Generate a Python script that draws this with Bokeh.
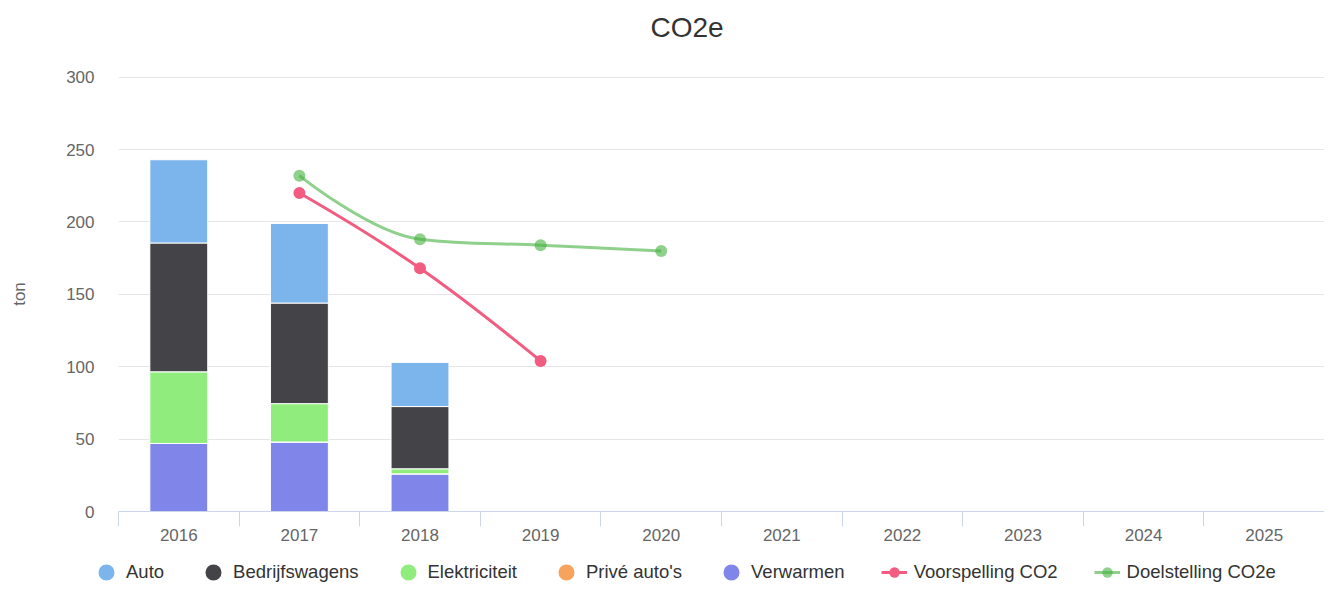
from bokeh.plotting import figure
from bokeh.layouts import column
from bokeh.models import Range1d, FixedTicker, Legend, LegendItem, ColumnDataSource, Label
from bokeh.embed import file_html
from bokeh.resources import INLINE

# ---------------- data ----------------
years = ["2016", "2017", "2018", "2019", "2020", "2021", "2022", "2023", "2024", "2025"]

bar_years = ["2016", "2017", "2018"]
auto = [57.5, 55.0, 30.5]
bedrijfswagens = [89.0, 69.5, 43.0]
elektriciteit = [49.5, 26.5, 3.5]
prive_autos = [0.0, 0.0, 0.0]
verwarmen = [47.0, 48.0, 26.0]

voorspelling_years = ["2017", "2018", "2019"]
voorspelling = [220, 168, 104]

doelstelling_years = ["2017", "2018", "2019", "2020"]
doelstelling = [232, 188, 184, 180]

y_ticks = [0, 50, 100, 150, 200, 250, 300]

# ---------------- styles ----------------
FONT = "Liberation Sans"
C_AUTO = "#7cb5ec"
C_BEDR = "#434348"
C_ELEK = "#90ed7d"
C_PRIVE = "#f7a35c"
C_VERW = "#8085e9"
C_VOOR = "#f15c80"
C_DOEL = "#44b13f"
DOEL_ALPHA = 0.6
W = 1324

idx = {y: i for i, y in enumerate(years)}


def spline_segments(xs, ys, smoothing=1.5):
    """Highcharts-style spline: returns cubic bezier segments."""
    n = len(xs)
    denom = smoothing + 1
    lc = [None] * n
    rc = [None] * n
    for i in range(1, n - 1):
        px, py = xs[i], ys[i]
        lx, ly = xs[i - 1], ys[i - 1]
        nx, ny = xs[i + 1], ys[i + 1]
        lcx = (smoothing * px + lx) / denom
        lcy = (smoothing * py + ly) / denom
        rcx = (smoothing * px + nx) / denom
        rcy = (smoothing * py + ny) / denom
        if rcx != lcx:
            corr = ((rcy - lcy) * (rcx - px)) / (rcx - lcx) + py - rcy
            lcy += corr
            rcy += corr
        if lcy > ly and lcy > py:
            lcy = max(ly, py)
            rcy = 2 * py - lcy
        elif lcy < ly and lcy < py:
            lcy = min(ly, py)
            rcy = 2 * py - lcy
        if rcy > ny and rcy > py:
            rcy = max(ny, py)
            lcy = 2 * py - rcy
        elif rcy < ny and rcy < py:
            rcy = min(ny, py)
            lcy = 2 * py - rcy
        lc[i] = (lcx, lcy)
        rc[i] = (rcx, rcy)
    seg = dict(x0=[], y0=[], x1=[], y1=[], cx0=[], cy0=[], cx1=[], cy1=[])
    for i in range(1, n):
        sx, sy = xs[i - 1], ys[i - 1]
        ex, ey = xs[i], ys[i]
        c0 = rc[i - 1] if rc[i - 1] is not None else (sx, sy)
        c1 = lc[i] if lc[i] is not None else (ex, ey)
        seg["x0"].append(sx); seg["y0"].append(sy)
        seg["x1"].append(ex); seg["y1"].append(ey)
        seg["cx0"].append(c0[0]); seg["cy0"].append(c0[1])
        seg["cx1"].append(c1[0]); seg["cy1"].append(c1[1])
    return seg


def blank_figure(height):
    f = figure(width=W, height=height, output_backend="svg", toolbar_location=None,
               x_range=Range1d(0, W), y_range=Range1d(0, height),
               x_axis_type=None, y_axis_type=None, min_border=0)
    f.outline_line_color = None
    f.background_fill_color = "white"
    f.border_fill_color = "white"
    return f


HEAD_H = 50
# ---------------- title strip ----------------
head = blank_figure(HEAD_H)
head.add_layout(Label(x=650, y=HEAD_H - 27, x_units="screen", y_units="screen", text="CO2e",
                      text_font=FONT, text_font_size="28px", text_color="#333333",
                      text_align="left", text_baseline="middle"))

# ---------------- main chart ----------------
p = figure(width=W, height=550 - HEAD_H, output_backend="svg", toolbar_location=None,
           x_range=Range1d(-0.5, len(years) - 0.5), y_range=Range1d(0, 300.5),
           min_border_left=118, min_border_right=0, min_border_top=76 - HEAD_H,
           min_border_bottom=39)
p.outline_line_color = None
p.background_fill_color = "white"
p.border_fill_color = "white"

# y axis
p.yaxis.ticker = FixedTicker(ticks=y_ticks)
p.yaxis.axis_line_color = None
p.yaxis.major_tick_line_color = None
p.yaxis.minor_tick_line_color = None
p.yaxis.major_tick_out = 0
p.yaxis.major_label_standoff = 24
p.yaxis.major_label_text_font = FONT
p.yaxis.major_label_text_font_size = "17px"
p.yaxis.major_label_text_color = "#666666"
p.yaxis.axis_label = "ton"
p.yaxis.axis_label_text_font = FONT
p.yaxis.axis_label_text_font_size = "17px"
p.yaxis.axis_label_text_font_style = "normal"
p.yaxis.axis_label_text_color = "#666666"
p.yaxis.axis_label_standoff = 34
p.ygrid.grid_line_color = "#e6e6e6"
p.ygrid.grid_line_width = 1

# x axis
p.xaxis.ticker = FixedTicker(ticks=list(range(len(years))),
                             minor_ticks=[i - 0.5 for i in range(len(years) + 1)])
p.xaxis.major_label_overrides = {i: y for i, y in enumerate(years)}
p.xaxis.axis_line_color = "#ccd6eb"
p.xaxis.axis_line_width = 1
p.xaxis.major_tick_line_color = None
p.xaxis.major_tick_out = 0
p.xaxis.major_tick_in = 0
p.xaxis.minor_tick_line_color = "#ccd6eb"
p.xaxis.minor_tick_out = 15
p.xaxis.minor_tick_in = 0
p.xaxis.major_label_standoff = 2
p.xaxis.major_label_text_font = FONT
p.xaxis.major_label_text_font_size = "17px"
p.xaxis.major_label_text_color = "#666666"
p.xgrid.visible = False

# stacked bars
src = ColumnDataSource(dict(
    x=[idx[y] for y in bar_years],
    verw=verwarmen, prive=prive_autos, elek=elektriciteit, bedr=bedrijfswagens, auto=auto,
))
p.vbar_stack(["verw", "prive", "elek", "bedr", "auto"], x="x", width=0.48, source=src,
             fill_color=[C_VERW, C_PRIVE, C_ELEK, C_BEDR, C_AUTO],
             line_color="white", line_width=1)

# spline lines
vx = [idx[y] for y in voorspelling_years]
seg_v = spline_segments(vx, voorspelling)
p.bezier(source=ColumnDataSource(seg_v), x0="x0", y0="y0", x1="x1", y1="y1",
         cx0="cx0", cy0="cy0", cx1="cx1", cy1="cy1", line_color=C_VOOR, line_width=3)
p.scatter(vx, voorspelling, marker="circle", size=12, fill_color=C_VOOR, line_color=None)

dx = [idx[y] for y in doelstelling_years]
seg_d = spline_segments(dx, doelstelling)
p.bezier(source=ColumnDataSource(seg_d), x0="x0", y0="y0", x1="x1", y1="y1",
         cx0="cx0", cy0="cy0", cx1="cx1", cy1="cy1", line_color=C_DOEL, line_width=3,
         line_alpha=DOEL_ALPHA)
p.scatter(dx, doelstelling, marker="circle", size=12, fill_color=C_DOEL, line_color=None,
          fill_alpha=DOEL_ALPHA)

# ---------------- legend strip ----------------
lf = blank_figure(35)
OFF = [-1000]  # proxy glyph position, outside the strip's visible range


def proxy_circle(color, stroke, alpha=1.0):
    # legend markers are drawn at 0.4 * glyph box; a same-coloured stroke widens them
    if stroke > 0:
        return lf.scatter(x=OFF, y=OFF, marker="circle", size=16, fill_color=color,
                          line_color=color, line_width=stroke)
    return lf.scatter(x=OFF, y=OFF, marker="circle", size=12, fill_color=color,
                      line_color=None, fill_alpha=alpha)


lv = lf.line(x=OFF * 2, y=OFF * 2, line_color=C_VOOR, line_width=3)
ld = lf.line(x=OFF * 2, y=OFF * 2, line_color=C_DOEL, line_width=3, line_alpha=DOEL_ALPHA)
items = [
    LegendItem(label="Auto", renderers=[proxy_circle(C_AUTO, 5.6)]),
    LegendItem(label="Bedrijfswagens", renderers=[proxy_circle(C_BEDR, 5.6)]),
    LegendItem(label="Elektriciteit", renderers=[proxy_circle(C_ELEK, 5.6)]),
    LegendItem(label="Privé auto's", renderers=[proxy_circle(C_PRIVE, 5.6)]),
    LegendItem(label="Verwarmen", renderers=[proxy_circle(C_VERW, 5.6)]),
    LegendItem(label="Voorspelling CO2", renderers=[lv, proxy_circle(C_VOOR, 0)]),
    LegendItem(label="Doelstelling CO2e", renderers=[ld, proxy_circle(C_DOEL, 0, DOEL_ALPHA)]),
]
leg = Legend(items=items, orientation="horizontal", location=(93, 0),
             glyph_width=26, glyph_height=26, label_standoff=7, spacing=36,
             padding=0, margin=0, border_line_color=None, background_fill_alpha=0,
             label_text_font=FONT, label_text_font_size="18.5px",
             label_text_color="#333333", label_height=20)
lf.add_layout(leg)

layout = column(column(head), p, column(lf), spacing=0)
open("out.html", "w").write(file_html(layout, INLINE))
